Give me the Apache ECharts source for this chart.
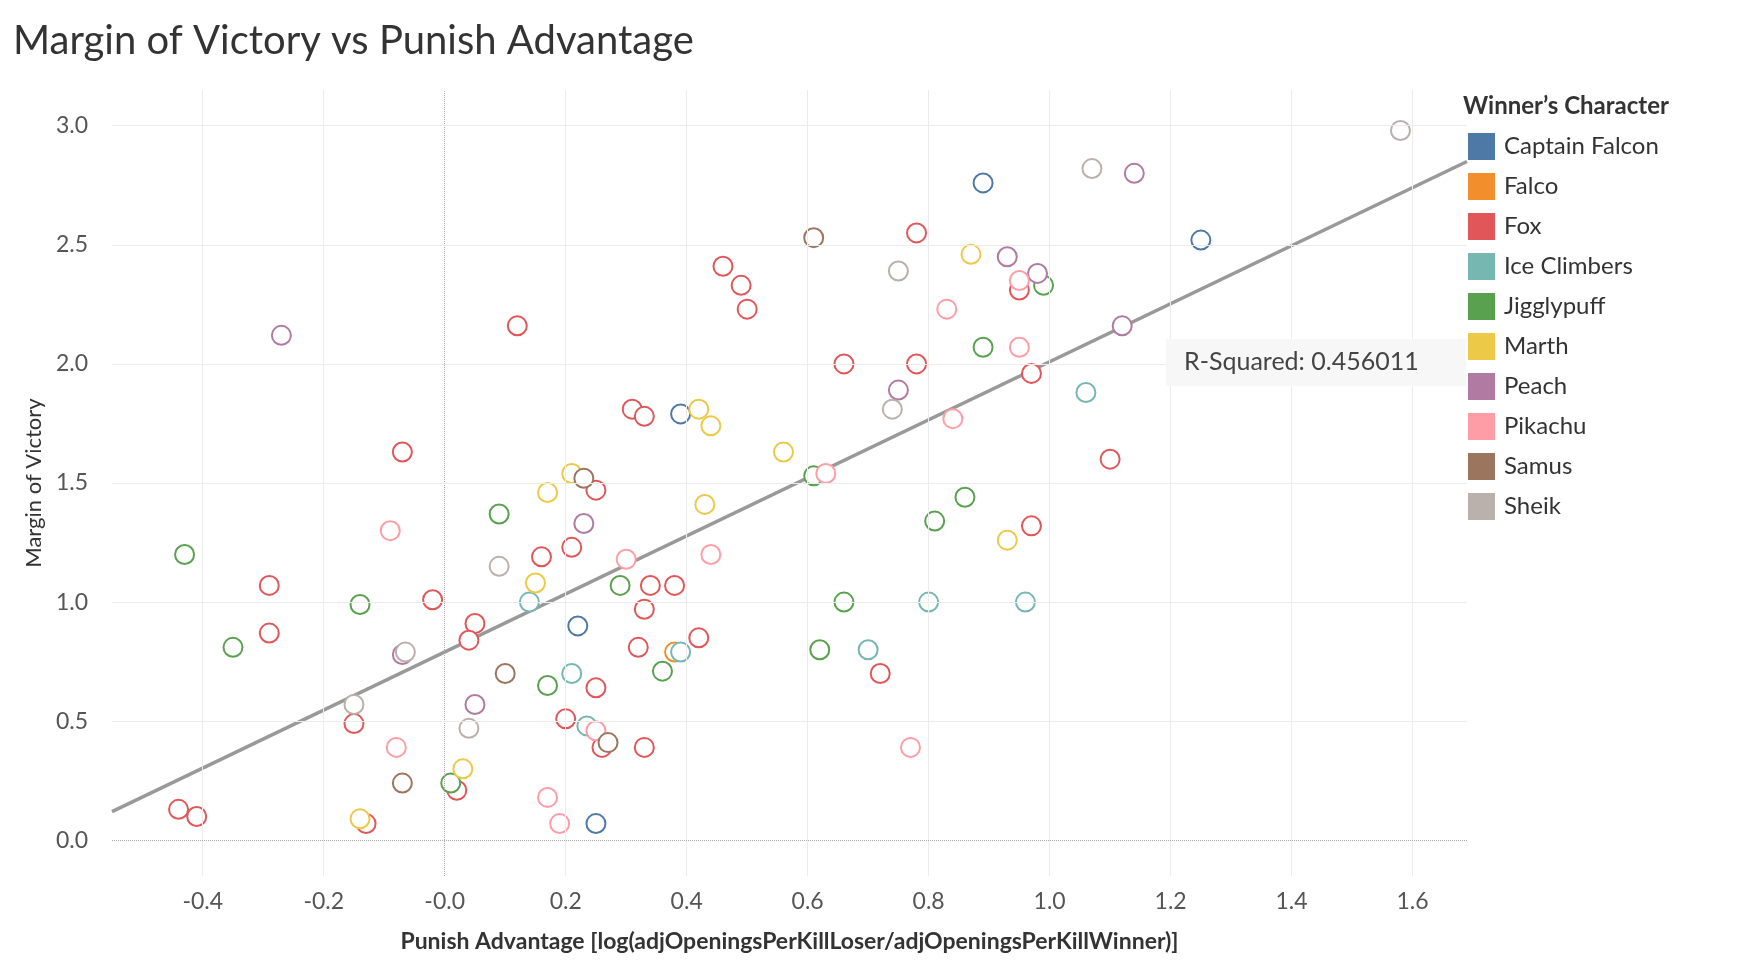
<!DOCTYPE html>
<html><head><meta charset="utf-8">
<script src="https://cdn.jsdelivr.net/npm/echarts@6/dist/echarts.min.js"></script>
<style>html,body{margin:0;padding:0;background:#fff}#c{width:1752px;height:970px}</style>
</head><body><div id="c"></div>
<script>
const characters = ['Captain Falcon','Falco','Fox','Ice Climbers','Jigglypuff','Marth','Peach','Pikachu','Samus','Sheik'];
const colors = ['#4e79a7','#f28e2b','#e15759','#76b7b2','#59a14f','#edc948','#b07aa1','#ff9da7','#9c755f','#bab0ac'];
const captainFalcon = [[0.89,2.76],[1.25,2.52],[0.39,1.79],[0.22,0.90],[0.25,0.07]];
const falco = [[0.38,0.79]];
const fox = [[0.46,2.41],[0.49,2.33],[0.50,2.23],[0.12,2.16],[0.78,2.55],[0.95,2.31],[0.66,2.00],[0.78,2.00],[0.97,1.96],[0.31,1.81],[0.33,1.78],[-0.07,1.63],[1.10,1.60],[0.25,1.47],[0.97,1.32],[0.21,1.23],[0.16,1.19],[-0.29,1.07],[0.34,1.07],[0.38,1.07],[-0.02,1.01],[0.33,0.97],[0.05,0.91],[0.04,0.84],[0.42,0.85],[-0.29,0.87],[0.32,0.81],[0.72,0.70],[0.25,0.64],[-0.15,0.49],[0.20,0.51],[0.26,0.39],[0.33,0.39],[0.02,0.21],[-0.44,0.13],[-0.41,0.10],[-0.13,0.07]];
const iceClimbers = [[1.06,1.88],[0.14,1.00],[0.80,1.00],[0.96,1.00],[0.70,0.80],[0.39,0.79],[0.21,0.70],[0.235,0.48]];
const jigglypuff = [[0.99,2.33],[0.89,2.07],[-0.43,1.20],[0.09,1.37],[0.61,1.53],[0.86,1.44],[0.81,1.34],[0.29,1.07],[-0.14,0.99],[0.66,1.00],[-0.35,0.81],[0.62,0.80],[0.36,0.71],[0.17,0.65],[0.01,0.24]];
const marth = [[0.87,2.46],[0.42,1.81],[0.44,1.74],[0.56,1.63],[0.21,1.54],[0.17,1.46],[0.43,1.41],[0.93,1.26],[0.15,1.08],[0.03,0.30],[-0.14,0.09]];
const peach = [[1.14,2.80],[0.93,2.45],[0.98,2.38],[1.12,2.16],[0.75,1.89],[-0.27,2.12],[0.23,1.33],[-0.07,0.78],[0.05,0.57]];
const pikachu = [[0.95,2.35],[0.83,2.23],[0.95,2.07],[0.84,1.77],[0.63,1.54],[-0.09,1.30],[0.30,1.18],[0.44,1.20],[-0.08,0.39],[0.77,0.39],[0.25,0.46],[0.17,0.18],[0.19,0.07]];
const samus = [[0.61,2.53],[0.23,1.52],[0.10,0.70],[0.27,0.41],[-0.07,0.24]];
const sheik = [[1.58,2.98],[1.07,2.82],[0.75,2.39],[0.74,1.81],[0.09,1.15],[-0.15,0.57],[-0.065,0.79],[0.04,0.47]];
const seriesData = [captainFalcon,falco,fox,iceClimbers,jigglypuff,marth,peach,pikachu,samus,sheik];
const trendLine = [[-0.55,0.12],[1.69,2.85]];
const xTicks = [-0.4,-0.2,0,0.2,0.4,0.6,0.8,1.0,1.2,1.4,1.6];
const yTicks = [0,0.5,1.0,1.5,2.0,2.5,3.0];
const rSquared = '0.456011';

const font = 'Lato, "Open Sans", sans-serif';
const chart = echarts.init(document.getElementById('c'));
const gridLines = [];
xTicks.forEach(v => gridLines.push({xAxis: v, lineStyle: v===0?{color:'#aaa',type:'dotted',width:1}:{color:'#ececec',type:'solid',width:1}}));
yTicks.forEach(v => gridLines.push({yAxis: v, lineStyle: v===0?{color:'#aaa',type:'dotted',width:1}:{color:'#ececec',type:'solid',width:1}}));

const series = [{
  type:'line', data:[], silent:true,
  markLine:{silent:true, symbol:'none', label:{show:false}, data:gridLines, animation:false}
}, {
  type:'line', data: trendLine, symbol:'none', silent:true,
  lineStyle:{color:'#999',width:3.5}, z:1
}];
characters.forEach((c,i)=>series.push({
  name:c, type:'scatter', data:seriesData[i], symbol:'emptyCircle', symbolSize:19,
  itemStyle:{color:colors[i], borderColor:colors[i], borderWidth:3.5, opacity:1}, z:3
}));

chart.setOption({
  animation:false,
  title:{text:'Margin of Victory vs Punish Advantage', left:8, top:16,
    textStyle:{fontFamily:font, fontSize:40, fontWeight:'normal', color:'#333'}},
  grid:{left:112, right:285, top:90, bottom:94},
  legend:{data:characters.map((c,i)=>({name:c, icon:'rect', itemStyle:{color:colors[i], borderWidth:0, opacity:1}})),
    orient:'vertical', left:1463, top:128, itemWidth:27, itemHeight:27,
    itemGap:13, textStyle:{fontFamily:font, fontSize:24, color:'#333', padding:[0,0,0,4]}},
  xAxis:{type:'value', min:-0.55, max:1.69,
    name:'Punish Advantage [log(adjOpeningsPerKillLoser/adjOpeningsPerKillWinner)]',
    nameLocation:'middle', nameGap:54,
    nameTextStyle:{fontFamily:font, fontSize:23, fontWeight:'bold', color:'#333'},
    axisLine:{show:false}, axisTick:{show:false}, splitLine:{show:false},
    axisLabel:{customValues:xTicks, fontFamily:font, fontSize:23, color:'#555', margin:14,
      formatter:v=>Math.abs(v)<1e-9?'-0.0':v.toFixed(1)}},
  yAxis:{type:'value', min:-0.15, max:3.15, name:'Margin of Victory', nameLocation:'middle', nameGap:62,
    nameTextStyle:{fontFamily:font, fontSize:22, color:'#333'},
    axisLine:{show:false}, axisTick:{show:false}, splitLine:{show:false},
    axisLabel:{customValues:yTicks, fontFamily:font, fontSize:23, color:'#555', margin:24,
      formatter:v=>v.toFixed(1)}},
  graphic:[
    {type:'text', left:1463, top:94, style:{text:'Winner\u2019s Character', font:'bold 24px '+font, fill:'#333'}},
    {type:'rect', shape:{x:1166,y:339,width:300,height:47}, style:{fill:'#f7f7f7'}, z:10},
    {type:'text', x:1184, y:362, style:{text:'R-Squared: '+rSquared, font:'25px '+font, fill:'#444', verticalAlign:'middle'}, z:11}
  ],
  series
});
</script></body></html>
